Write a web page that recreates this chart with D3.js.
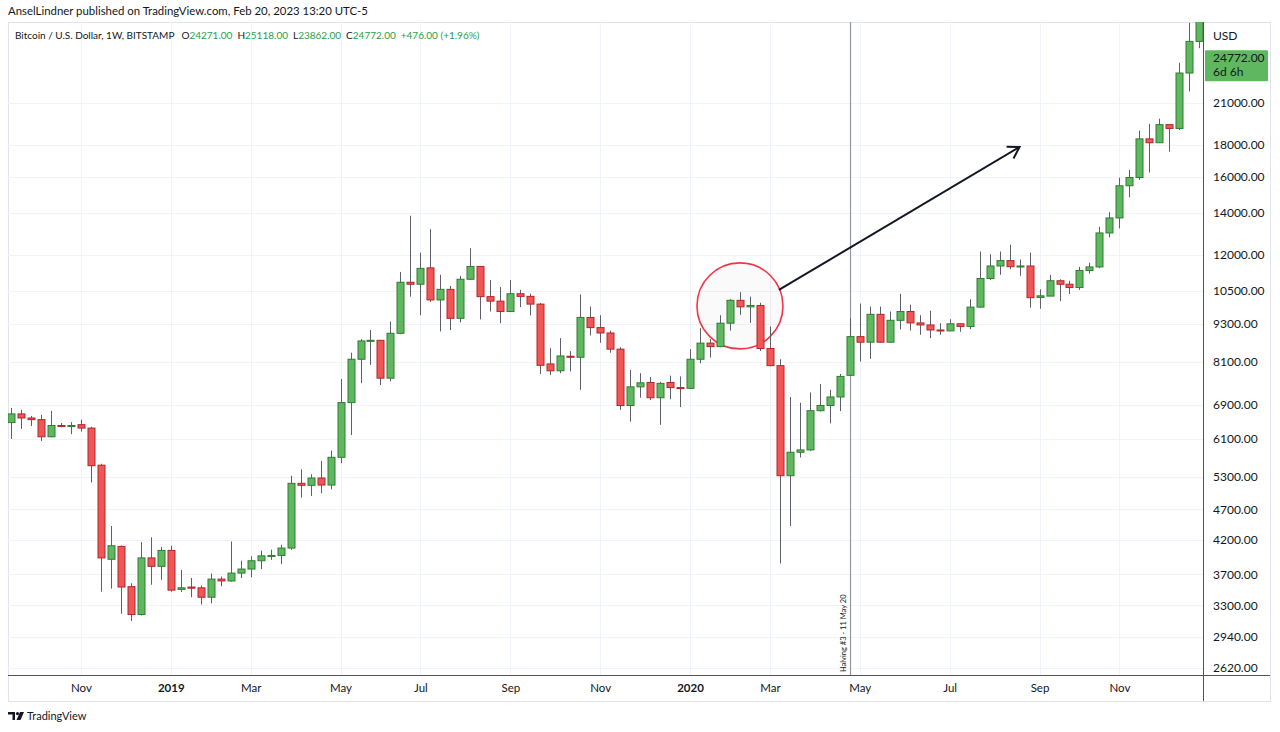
<!DOCTYPE html>
<html>
<head>
<meta charset="utf-8">
<script src="https://cdn.jsdelivr.net/npm/d3@7"></script>
<style>
  body { margin: 0; background: #fff; }
  svg { display: block; font-family: "Lato", "Noto Sans", sans-serif; }
</style>
</head>
<body>
<svg id="chart" width="1280" height="732"></svg>
<script>
// Weekly candles, BITSTAMP BTCUSD, first bar week of 2018-09-17
const firstWeek = "2018-09-17";
const lastWeek = "2020-12-28";

const opens = [
  6470, 6680, 6580, 6540, 6140, 6400, 6385, 6420, 6340, 5530,
  3910, 4100, 3535, 3190, 3930, 3810, 4040, 3500, 3530, 3520,
  3400, 3635, 3610, 3716, 3772, 3889, 3960, 3966, 4075, 5173,
  5135, 5275, 5140, 5693, 6964, 8170, 8740, 8760, 7620, 8990,
  10850, 10770, 11440, 10165, 10570, 9500, 10970, 11500, 10290, 10120,
  9740, 10400, 10300, 10010, 8030, 7830, 8260, 8230, 9530, 9180,
  9000, 8480, 6890, 7380, 7500, 7090, 7500, 7360, 7340, 8170,
  8670, 8560, 9330, 10150, 9910, 9960, 8500, 7980, 5320, 5800,
  5850, 6760, 6890, 7110, 7700, 8880, 8700, 9640, 8700, 9430,
  9740, 9340, 9270, 9100, 9070, 9310, 9220, 9900, 11000, 11520,
  11750, 11490, 11520, 10260, 10310, 10910, 10770, 10640, 11330, 11480,
  13010, 13750, 15480, 15960, 18400, 18140, 19390, 19120, 23450, 26350
];
const highs = [
  6830, 6780, 6630, 6655, 6754, 6460, 6480, 6540, 6370, 5560,
  4420, 4115, 3580, 4165, 4240, 4095, 4110, 3760, 3650, 3550,
  3710, 3670, 4175, 3890, 3953, 4036, 4051, 4125, 5320, 5447,
  5348, 5617, 5835, 7600, 8370, 8800, 9100, 8760, 9390, 11270,
  13860, 12100, 13190, 11150, 10700, 11110, 12300, 11520, 10940, 10660,
  10940, 10550, 10400, 10050, 8510, 8830, 8420, 10370, 9920, 9610,
  9080, 8540, 7855, 7760, 7650, 7520, 7690, 7670, 8480, 9160,
  8800, 9610, 10190, 10460, 10290, 10060, 9220, 8170, 7110, 6960,
  7230, 7460, 7300, 7740, 9500, 10030, 9920, 9920, 9740, 10400,
  9990, 9610, 9770, 9330, 9470, 9320, 10190, 12150, 12030, 12150,
  12460, 11800, 12100, 10570, 11150, 10970, 10910, 11480, 11660, 13310,
  14040, 15950, 16410, 18970, 19450, 19820, 19390, 24350, 28200, 34800
];
const lows = [
  6090, 6320, 6390, 6047, 6130, 6360, 6200, 6260, 5190, 3470,
  3510, 3200, 3115, 3180, 3560, 3625, 3470, 3465, 3400, 3310,
  3325, 3540, 3600, 3650, 3660, 3772, 3902, 3840, 4049, 4907,
  4938, 4987, 5060, 5570, 6180, 7480, 8000, 7430, 7530, 8960,
  10290, 9610, 10090, 9050, 9100, 9360, 10940, 9460, 9740, 9330,
  9720, 9900, 9600, 7740, 7710, 7760, 7810, 7300, 8920, 8680,
  8370, 6780, 6490, 7090, 7030, 6415, 7050, 6850, 7320, 8050,
  8220, 8540, 9080, 9620, 9340, 8420, 7960, 3850, 4420, 5690,
  5830, 6740, 6450, 6750, 7680, 8100, 8180, 8680, 8680, 9120,
  9080, 8940, 8830, 8940, 9060, 9040, 9130, 9880, 10940, 11150,
  11380, 11110, 9880, 9840, 10310, 10120, 10390, 10550, 11200, 11430,
  12800, 13230, 14840, 15820, 16250, 18140, 17550, 19010, 21900, 25700
];
const closes = [
  6680, 6580, 6540, 6140, 6400, 6380, 6400, 6340, 5520, 3930,
  4110, 3530, 3190, 3930, 3810, 4040, 3490, 3520, 3515, 3400,
  3635, 3610, 3716, 3772, 3889, 3960, 3966, 4075, 5173, 5135,
  5275, 5140, 5693, 6964, 8170, 8740, 8760, 7620, 8990, 10850,
  10770, 11420, 10165, 10570, 9500, 10970, 11500, 10290, 10120, 9740,
  10400, 10300, 10010, 7990, 7830, 8270, 8230, 9530, 9180, 9000,
  8480, 6890, 7380, 7490, 7090, 7475, 7360, 7340, 8170, 8670,
  8560, 9330, 10150, 9910, 9960, 8500, 7980, 5320, 5800, 5850,
  6760, 6890, 7110, 7670, 8880, 8700, 9640, 8700, 9430, 9740,
  9340, 9270, 9100, 9070, 9310, 9220, 9900, 11000, 11520, 11750,
  11490, 11520, 10250, 10320, 10910, 10770, 10640, 11330, 11480, 13010,
  13750, 15480, 15960, 18400, 18140, 19390, 19120, 23450, 26350, 32200
];

const priceTicks = [2620, 2940, 3300, 3700, 4200, 4700, 5300, 6100, 6900, 8100,
  9300, 10500, 12000, 14000, 16000, 18000, 21000];
const timeTicks = ["2018-11-05", "2019-01-07", "2019-03-04", "2019-05-06", "2019-07-01",
  "2019-09-02", "2019-11-04", "2020-01-06", "2020-03-02", "2020-05-04", "2020-07-06",
  "2020-09-07", "2020-11-02"];
const timeTickLabels = ["Nov", "2019", "Mar", "May", "Jul", "Sep", "Nov", "2020",
  "Mar", "May", "Jul", "Sep", "Nov"];

const lastPrice = 24772;
const halvingWeek = "2020-04-27";

const parse = d3.utcParse("%Y-%m-%d");
const weeks = d3.utcMonday.range(parse(firstWeek), d3.utcDay.offset(parse(lastWeek), 1));
const candles = weeks.map((d, i) => ({
  date: d, o: opens[i], h: highs[i], l: lows[i], c: closes[i]
}));

// Layout
const frame = { left: 8, top: 22, right: 1270, bottom: 701 };
const plot = { left: 8, top: 22, right: 1203, bottom: 675 };

const svg = d3.select("#chart");

const x = d3.scaleUtc()
  .domain([parse(firstWeek), parse(lastWeek)])
  .range([11, 1199.3]);
const y = d3.scaleLog()
  .domain([2553, 28300])
  .range([plot.bottom, plot.top]);

const upFill = "#5fb85f", upLine = "#2e7d32";
const downFill = "#f05656", downLine = "#b3262a";
const textColor = "#131722";

// Top credit line
svg.append("text")
  .attr("x", 8).attr("y", 15)
  .attr("font-size", 11.4).attr("fill", textColor)
  .text("AnselLindner published on TradingView.com, Feb 20, 2023 13:20 UTC-5");

// Frame
svg.append("rect")
  .attr("x", frame.left + 0.5).attr("y", frame.top + 0.5)
  .attr("width", frame.right - frame.left).attr("height", frame.bottom - frame.top)
  .attr("fill", "none").attr("stroke", "#e0e3eb");

svg.append("clipPath").attr("id", "plotClip")
  .append("rect")
  .attr("x", plot.left).attr("y", plot.top)
  .attr("width", plot.right - plot.left).attr("height", plot.bottom - plot.top);

// Grid
const grid = svg.append("g").attr("clip-path", "url(#plotClip)");
grid.selectAll(".hgrid").data(priceTicks).join("line")
  .attr("x1", plot.left).attr("x2", plot.right)
  .attr("y1", d => Math.round(y(d)) + 0.5).attr("y2", d => Math.round(y(d)) + 0.5)
  .attr("stroke", "#f0f3fa");
grid.selectAll(".vgrid").data(timeTicks).join("line")
  .attr("x1", d => Math.round(x(parse(d))) + 0.5).attr("x2", d => Math.round(x(parse(d))) + 0.5)
  .attr("y1", plot.top).attr("y2", plot.bottom)
  .attr("stroke", "#f0f3fa");

// Halving line
const hx = Math.round(x(parse(halvingWeek))) + 0.5;
svg.append("line")
  .attr("x1", hx).attr("x2", hx)
  .attr("y1", plot.top).attr("y2", plot.bottom)
  .attr("stroke", "#9598a1").attr("stroke-width", 1.2);
svg.append("text")
  .attr("transform", `translate(${hx - 5},${plot.bottom - 3}) rotate(-90)`)
  .attr("font-size", 7.5).attr("fill", textColor)
  .text("Halving #3 - 11 May 20");

// Annotation circle (around Feb 2020 top)
const circleWeek = "2020-02-10", circlePrice = 9944;
svg.append("circle")
  .attr("cx", x(parse(circleWeek))).attr("cy", y(circlePrice))
  .attr("r", 43)
  .attr("fill", "rgba(120,123,134,0.04)")
  .attr("stroke", "#f23645").attr("stroke-width", 1.6);

// Candles
const body = 7;
const cg = svg.append("g").attr("clip-path", "url(#plotClip)");
const candle = cg.selectAll("g.candle").data(candles).join("g")
  .attr("transform", d => `translate(${Math.round(x(d.date))},0)`);
candle.append("line")
  .attr("x1", 0.5).attr("x2", 0.5)
  .attr("y1", d => y(d.h)).attr("y2", d => y(d.l))
  .attr("stroke", "#5d606b").attr("stroke-width", 1);
candle.append("rect")
  .attr("x", -body / 2 + 0.5)
  .attr("y", d => y(Math.max(d.o, d.c)))
  .attr("width", body)
  .attr("height", d => Math.max(1, Math.abs(y(d.o) - y(d.c))))
  .attr("fill", d => d.c >= d.o ? upFill : downFill)
  .attr("stroke", d => d.c >= d.o ? upLine : downLine)
  .attr("stroke-width", 1);

// Arrow
const arrowFrom = { week: "2020-03-09", price: 10547 };
const arrowTo = { week: "2020-08-24", price: 17860 };
const ax1 = x(parse(arrowFrom.week)) - 1, ay1 = y(arrowFrom.price);
const ax2 = x(parse(arrowTo.week)), ay2 = y(arrowTo.price);
svg.append("line")
  .attr("x1", ax1).attr("y1", ay1).attr("x2", ax2).attr("y2", ay2)
  .attr("stroke", textColor).attr("stroke-width", 2);
const ang = Math.atan2(ay2 - ay1, ax2 - ax1);
const headLen = 13, spread = 0.55;
svg.append("path")
  .attr("d", `M${ax2 - headLen * Math.cos(ang - spread)},${ay2 - headLen * Math.sin(ang - spread)}` +
    `L${ax2},${ay2}L${ax2 - headLen * Math.cos(ang + spread)},${ay2 - headLen * Math.sin(ang + spread)}`)
  .attr("fill", "none").attr("stroke", textColor).attr("stroke-width", 2);

// Legend
const legend = svg.append("text").attr("x", 15).attr("y", 39).attr("font-size", 10);
const upText = "#2a9d4f";
legend.append("tspan").attr("fill", textColor).text("Bitcoin / U.S. Dollar, 1W, BITSTAMP");
[["O", "24271.00"], ["H", "25118.00"], ["L", "23862.00"], ["C", "24772.00"]].forEach(([k, v], i) => {
  legend.append("tspan").attr("fill", textColor).attr("dx", i === 0 ? 7 : 5).text(k);
  legend.append("tspan").attr("fill", upText).text(v);
});
legend.append("tspan").attr("fill", upText).attr("dx", 5).text("+476.00 (+1.96%)");

// Price axis
const yAxis = d3.axisRight(y).tickValues(priceTicks)
  .tickFormat(d3.format(".2f")).tickSize(0).tickPadding(10);
const yg = svg.append("g").attr("transform", `translate(${plot.right},0)`).call(yAxis);
yg.select(".domain").attr("stroke", "#50535e").attr("d", `M0.5,${plot.top}V${frame.bottom}`);
yg.selectAll("text").attr("font-size", 12).attr("fill", textColor)
  .attr("font-family", "Lato, 'Noto Sans', sans-serif");

svg.append("text").attr("x", 1213).attr("y", 40)
  .attr("font-size", 12).attr("fill", textColor).text("USD");

// Last price badge
const ly = y(lastPrice);
svg.append("rect")
  .attr("x", plot.right + 2).attr("y", ly - 8).attr("width", 63).attr("height", 31)
  .attr("rx", 1).attr("fill", upFill);
svg.append("text").attr("x", 1213).attr("y", ly + 4)
  .attr("font-size", 12).attr("fill", textColor).text(d3.format(".2f")(lastPrice));
svg.append("text").attr("x", 1213).attr("y", ly + 18)
  .attr("font-size", 12).attr("fill", textColor).text("6d 6h");

// Time axis
const xAxis = d3.axisBottom(x).tickValues(timeTicks.map(parse))
  .tickFormat((d, i) => timeTickLabels[i]).tickSize(0).tickPadding(9);
const xg = svg.append("g").attr("transform", `translate(0,${plot.bottom})`).call(xAxis);
xg.select(".domain").attr("stroke", "#50535e").attr("d", `M${frame.left},0.5H${frame.right}`);
xg.selectAll("text").attr("font-size", 11.5).attr("fill", textColor)
  .attr("font-family", "Lato, 'Noto Sans', sans-serif")
  .attr("font-weight", (d, i) => /^\d{4}$/.test(timeTickLabels[i]) ? "bold" : "normal");

// TradingView footer
const logo = svg.append("g").attr("transform", "translate(8,712)");
logo.append("path").attr("d", "M0,0H7V8H4.5V2.5H0Z").attr("fill", textColor);
logo.append("circle").attr("cx", 9.5).attr("cy", 1.6).attr("r", 1.6).attr("fill", textColor);
logo.append("path").attr("d", "M12,0H16L12.5,8H8.5Z").attr("fill", textColor);
svg.append("text").attr("x", 27).attr("y", 720)
  .attr("font-size", 11).attr("fill", textColor).text("TradingView");
</script>
</body>
</html>
